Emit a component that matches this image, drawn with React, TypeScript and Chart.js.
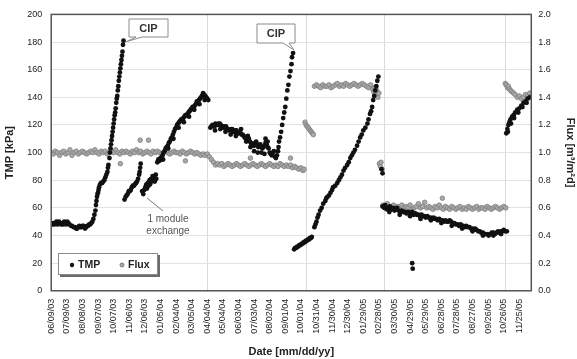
import React, { useEffect, useRef } from 'react';
import { Chart, registerables } from 'chart.js';

Chart.register(...registerables);

const FONT = "'Liberation Sans', Arial, sans-serif";

// x axis: days since 06/09/03
const X_MIN = 0;
const X_MAX = 923;
const xTickDays = [0, 30, 60, 90, 120, 150, 180, 210, 240, 270, 300, 330, 360, 390, 420, 450, 480, 510, 540, 570, 600, 630, 660, 690, 720, 750, 780, 810, 840, 870, 900];
const xTickLabels = ['06/09/03', '07/09/03', '08/08/03', '09/07/03', '10/07/03', '11/06/03', '12/06/03', '01/05/04', '02/04/04', '03/05/04', '04/04/04', '05/04/04', '06/03/04', '07/03/04', '08/02/04', '09/01/04', '10/01/04', '10/31/04', '11/30/04', '12/30/04', '01/29/05', '02/28/05', '03/30/05', '04/29/05', '05/29/05', '06/28/05', '07/28/05', '08/27/05', '09/26/05', '10/26/05', '11/25/05'];
const gridDays = [300, 490, 640, 873];

// TMP [kPa] : [day, value]
const tmpData: [number, number][] = [
  [0,49],[2,48],[4,49],[6,48],[8,49],[10,50],[12,48],[15,50],[17,49],[19,48],[21,49],[23,48],[25,50],[27,49],[29,48],[31,50],[33,49],[35,48],[38,47],[40,47],[43,46],[46,46],[48,45],[50,45],[52,46],[54,47],[56,46],[58,46],[60,47],[62,47],[64,46],[65,45],[67,46],[69,47],[71,47],[73,48],[75,48],[77,49],
  [79,50],[81,52],[83,55],[85,58],[86,62],[87,65],[88,68],[89,70],[90,71],[91,73],[92,75],[94,77],[96,78],[98,78],[100,79],[102,80],[104,82],[106,84],[108,86],[109,89],[110,91],[112,96],[113,100],[114,103],[115,106],[116,109],[117,112],[118,115],[119,118],[120,121],[121,124],[122,127],[123,129],[124,132],[125,136],[126,139],[127,141],[128,145],[129,148],[130,152],[131,155],[132,158],[133,161],[134,164],[135,167],[136,170],[137,173],[138,178],[139,181],
  [141,66],[143,68],[145,69],[147,70],[149,72],[151,72],[153,73],[155,75],[157,76],[159,76],[161,77],[163,78],[165,79],[167,81],[169,84],[170,86],[171,89],[172,92],
  [175,72],[177,70],[179,73],[181,75],[183,77],[184,74],[186,78],[187,76],[189,80],[190,77],[192,81],[193,79],[195,83],[196,80],[198,82],[199,79],[201,84],[202,81],
  [204,93],[206,95],[208,94],[210,96],[212,95],[214,98],[216,100],[218,101],[220,103],[222,104],[224,105],[226,107],[228,108],[230,110],[232,111],[234,113],[236,115],[238,117],[240,118],[242,120],[244,121],[246,122],[248,123],[250,124],[252,124],[254,125],[256,126],[258,127],[260,127],[262,128],[264,129],[266,130],[268,131],[270,132],[272,133],[274,133],[276,134],[278,135],[280,137],[282,137],[284,138],[286,139],[288,140],[290,141],[292,143],[294,142],[296,141],[298,140],[300,139],[302,138],
  [215,95],[225,103],[235,110],[245,118],[255,122],[265,126],[275,131],[285,135],[295,138],
  [306,118],[308,119],[310,120],[312,119],[314,119],[316,121],[318,120],[320,120],[322,121],[324,121],[326,120],[328,119],[330,118],[332,119],[334,118],[336,119],[338,117],[340,117],[342,116],[344,116],[346,117],[348,117],[350,115],[352,115],[354,116],[356,116],[358,114],[360,114],[362,115],[364,114],[366,113],[368,113],[370,112],[372,111],[374,110],[376,111],[378,112],[380,110],[382,108],[384,107],[386,106],[388,105],[390,105],[392,107],[394,108],[396,106],[398,104],[400,105],[402,106],[404,104],[406,103],[408,104],[410,105],[412,107],[414,106],[416,104],[418,103],[420,100],[422,99],[424,98],[426,100],[428,101],[430,97],[432,96],
  [315,116],[325,117],[335,115],[345,113],[355,112],[365,117],[375,108],[383,104],[390,101],[397,100],[404,100],[410,99],[412,110],[416,108],
  [434,98],[436,101],[437,104],[438,108],[440,111],[442,115],[444,120],[446,125],[448,129],[450,133],[452,139],[454,145],[456,149],[458,155],[460,159],[462,164],[463,169],[465,172],
  [467,30],[469,31],[471,31],[473,32],[475,32],[477,33],[479,33],[481,34],[483,34],[485,35],[487,35],[489,36],[491,36],[493,37],[495,37],[497,38],[499,38],[501,39],
  [506,46],[508,48],[510,50],[512,53],[514,55],[517,58],[520,60],[523,63],[527,65],[529,67],[531,68],[534,69],[537,71],[540,73],[542,75],[546,76],[550,78],[553,80],[556,82],[559,84],[562,87],[565,89],[569,91],[572,93],[575,96],[578,98],[581,100],[584,102],[588,105],[591,108],[594,111],[597,113],[600,116],[604,118],[608,121],[610,124],[613,128],[615,130],[617,133],[619,138],[621,141],[623,145],[625,148],[627,152],[629,155],
  [635,88],[637,85],[694,20],[695,16],
  [637,61],[640,60],[642,62],[645,59],[648,60],[651,61],[654,59],[657,60],[660,58],[663,59],[665,60],[668,58],[671,57],[674,58],[677,57],[680,57],[683,56],[686,57],[688,56],[691,56],[694,57],[697,55],[700,56],[703,55],[706,55],[709,54],[712,55],[715,54],[717,54],[720,53],[723,54],[726,53],[729,53],[732,52],[735,53],[738,52],[740,52],[743,51],[746,52],[749,51],[752,51],[755,50],[758,51],[761,50],[763,50],[766,51],[769,50],[772,49],[775,49],[778,48],[781,48],[784,47],[787,48],[790,47],[792,47],[795,46],[798,47],[801,46],[804,46],[807,45],[810,45],[813,44],[815,45],[818,44],[821,43],[824,43],[827,42],[830,42],[833,41],[835,41],[838,41],[841,40],[844,41],[847,42],[850,42],[853,41],[856,42],[859,43],[862,42],[865,43],[867,43],[870,44],[873,43],[876,43],
  [650,57],[670,55],[690,54],[710,52],[730,51],[750,49],[770,47],[790,45],[810,43],[830,40],[850,40],[865,41],
  [875,114],[877,117],[879,120],[881,122],[883,124],[886,126],[889,127],[892,129],[896,131],[900,132],[904,134],[908,136],[912,137],[916,139],[920,140],
  [878,115],[884,121],[890,125],[898,129],[906,133],[914,136],
];

// Flux [m3/m2d] : [day, value]
const fluxData: [number, number][] = [
  [0,1.00],[4,0.99],[8,1.01],[12,1.00],[16,0.98],[20,1.00],[24,1.01],[28,0.99],[32,1.00],[36,1.02],[40,0.98],[44,1.00],[48,1.01],[52,0.99],[56,1.00],[60,1.01],[64,1.00],[68,0.99],[72,1.00],[76,1.01],[80,1.00],[84,1.02],[88,1.00],[92,0.99],[96,1.01],[100,1.00],[104,1.01],[108,0.99],[112,1.00],[116,1.01],[120,1.00],[124,1.02],[128,1.00],[132,0.99],[136,1.01],[140,1.00],[144,1.01],[148,1.00],[152,0.99],[156,1.01],[160,1.00],[164,1.02],[168,1.00],[172,1.01],[176,0.99],[180,1.00],[184,1.01],[188,1.00],[192,0.99],[196,1.01],[200,1.00],[204,1.01],[208,1.00],[212,0.99],[216,1.00],[220,1.01],[224,1.00],[228,0.99],[232,1.00],[236,1.01],[240,1.00],[244,1.00],[248,0.99],[252,1.01],[256,1.00],[260,0.99],[264,1.00],[268,1.01],[272,1.00],[276,0.99],[280,1.00],[284,0.99],[288,0.98],[292,0.99],[296,0.98],[300,0.99],[304,0.97],[308,0.95],
  [133,0.92],[171,1.09],[187,1.09],[258,0.94],
  [312,0.93],[316,0.91],[320,0.92],[324,0.91],[328,0.92],[332,0.90],[336,0.91],[340,0.92],[344,0.91],[348,0.90],[352,0.91],[356,0.92],[360,0.91],[364,0.90],[368,0.91],[372,0.92],[376,0.91],[380,0.90],[384,0.91],[388,0.92],[392,0.91],[396,0.90],[400,0.91],[404,0.92],[408,0.91],[412,0.90],[416,0.91],[420,0.92],[424,0.91],[428,0.90],[432,0.91],[436,0.90],[440,0.92],[444,0.91],[448,0.90],[452,0.91],[456,0.90],[460,0.91],[464,0.89],[468,0.90],[472,0.89],[476,0.88],[480,0.89],[484,0.87],[486,0.88],
  [383,0.96],[460,0.96],
  [488,1.22],[490,1.20],[492,1.19],[494,1.18],[496,1.17],[498,1.16],[500,1.15],[502,1.14],[504,1.13],
  [506,1.48],[510,1.49],[514,1.48],[518,1.47],[522,1.49],[526,1.48],[530,1.48],[534,1.49],[538,1.47],[542,1.48],[546,1.49],[550,1.50],[554,1.48],[558,1.49],[562,1.48],[566,1.50],[570,1.49],[574,1.48],[578,1.49],[582,1.50],[586,1.49],[590,1.48],[594,1.49],[598,1.50],[602,1.49],[606,1.48],[610,1.47],[614,1.49],[618,1.46],[620,1.44],[622,1.47],[624,1.42],[626,1.45],[628,1.40],[630,1.43],
  [631,0.92],[633,0.90],[634,0.93],[636,0.88],
  [638,0.62],[642,0.60],[646,0.63],[650,0.61],[654,0.59],[658,0.62],[662,0.60],[666,0.61],[670,0.59],[674,0.62],[678,0.60],[682,0.61],[686,0.60],[690,0.62],[694,0.59],[698,0.60],[702,0.61],[706,0.63],[710,0.60],[714,0.61],[718,0.64],[722,0.60],[726,0.61],[730,0.60],[734,0.59],[738,0.61],[742,0.60],[746,0.62],[750,0.60],[754,0.59],[758,0.61],[762,0.60],[766,0.59],[770,0.61],[774,0.60],[778,0.59],[782,0.60],[786,0.61],[790,0.59],[794,0.60],[798,0.59],[802,0.61],[806,0.60],[810,0.59],[814,0.60],[818,0.61],[822,0.59],[826,0.60],[830,0.60],[834,0.59],[838,0.61],[842,0.60],[846,0.59],[850,0.60],[854,0.61],[858,0.60],[862,0.59],[866,0.60],[870,0.61],[874,0.60],
  [752,0.67],
  [873,1.50],[875,1.49],[877,1.47],[879,1.48],[881,1.46],[883,1.45],[886,1.44],[889,1.43],[892,1.42],[896,1.40],[900,1.41],[904,1.39],[908,1.40],[912,1.42],[916,1.41],[920,1.43],
];

const TMP_COLOR = '#111111';
const FLUX_FILL = '#a9a9a9';
const FLUX_EDGE = '#7d7d7d';

function drawCallout(ctx: CanvasRenderingContext2D, l: number, t: number, r: number, b: number, b1: number, b2: number, tipX: number, tipY: number, text: string) {
  ctx.beginPath();
  ctx.moveTo(l, t);
  ctx.lineTo(r, t);
  ctx.lineTo(r, b);
  ctx.lineTo(b2, b);
  ctx.lineTo(tipX, tipY);
  ctx.lineTo(b1, b);
  ctx.lineTo(l, b);
  ctx.closePath();
  ctx.fillStyle = '#ffffff';
  ctx.fill();
  ctx.strokeStyle = '#8a8a8a';
  ctx.lineWidth = 1;
  ctx.stroke();
  ctx.fillStyle = '#333';
  ctx.font = `bold 11px ${FONT}`;
  ctx.textAlign = 'center';
  ctx.textBaseline = 'middle';
  ctx.fillText(text, (l + r) / 2, (t + b) / 2 + 0.5);
}

const overlayPlugin = {
  id: 'overlay',
  afterDatasetsDraw(chart: any) {
    const { ctx, chartArea: a, scales } = chart;
    const xs = scales.x;
    const ys = scales.y;
    ctx.save();
    // plot frame
    ctx.strokeStyle = '#555';
    ctx.lineWidth = 1.5;
    ctx.strokeRect(a.left, a.top, a.right - a.left, a.bottom - a.top);

    // CIP callouts
    const p1x = xs.getPixelForValue(139);
    const p1y = ys.getPixelForValue(181);
    drawCallout(ctx, 129, 19, 168, 37, 136, 142, p1x + 3, p1y + 1, 'CIP');
    const p2x = xs.getPixelForValue(465);
    const p2y = ys.getPixelForValue(172);
    drawCallout(ctx, 257, 24, 295, 43, 283, 289, p2x + 1, p2y - 3, 'CIP');

    // 1 module exchange
    ctx.strokeStyle = '#777';
    ctx.lineWidth = 1;
    ctx.beginPath();
    ctx.moveTo(163, 211);
    ctx.lineTo(147, 198);
    ctx.stroke();
    ctx.fillStyle = '#555';
    ctx.font = `10px ${FONT}`;
    ctx.textAlign = 'center';
    ctx.textBaseline = 'middle';
    ctx.fillText('1 module', 168, 219);
    ctx.fillText('exchange', 168, 231);

    // legend box
    ctx.fillStyle = '#6a6a6a';
    ctx.fillRect(60, 255, 100, 22);
    ctx.fillStyle = '#ffffff';
    ctx.fillRect(58, 253, 100, 22);
    ctx.strokeStyle = '#8a8a8a';
    ctx.lineWidth = 1;
    ctx.strokeRect(58.5, 253.5, 99, 21);
    ctx.fillStyle = TMP_COLOR;
    ctx.beginPath();
    ctx.arc(72, 265, 2.2, 0, Math.PI * 2);
    ctx.fill();
    ctx.fillStyle = FLUX_FILL;
    ctx.strokeStyle = FLUX_EDGE;
    ctx.beginPath();
    ctx.arc(122, 265, 2.0, 0, Math.PI * 2);
    ctx.fill();
    ctx.stroke();
    ctx.fillStyle = '#222';
    ctx.font = `bold 10.5px ${FONT}`;
    ctx.textAlign = 'left';
    ctx.fillText('TMP', 78, 265.5);
    ctx.fillText('Flux', 128, 265.5);
    ctx.restore();
  },
};

export default function App() {
  const canvasRef = useRef<HTMLCanvasElement | null>(null);

  useEffect(() => {
    if (!canvasRef.current) return;
    const tickFont = { family: FONT, size: 9 };
    const titleFont = { family: FONT, size: 11, weight: 'bold' as const };
    const chart = new Chart(canvasRef.current, {
      type: 'scatter',
      data: {
        datasets: [
          {
            label: 'TMP',
            data: tmpData.map(([d, v]) => ({ x: d, y: v })),
            xAxisID: 'x',
            yAxisID: 'y',
            pointStyle: 'circle',
            pointRadius: 2.4,
            pointBorderWidth: 0,
            backgroundColor: TMP_COLOR,
            borderColor: TMP_COLOR,
          },
          {
            label: 'Flux',
            data: fluxData.map(([d, v]) => ({ x: d, y: v })),
            xAxisID: 'x',
            yAxisID: 'y2',
            pointStyle: 'circle',
            pointRadius: 2.3,
            pointBorderWidth: 0.8,
            backgroundColor: FLUX_FILL,
            borderColor: FLUX_EDGE,
          },
        ],
      },
      options: {
        animation: false,
        responsive: true,
        maintainAspectRatio: false,
        layout: { padding: { top: 14, left: 0, right: 0, bottom: 0 } },
        plugins: {
          legend: { display: false },
          tooltip: { enabled: false },
        },
        scales: {
          x: {
            type: 'linear',
            position: 'bottom',
            min: X_MIN,
            max: X_MAX,
            afterBuildTicks: (axis: any) => {
              axis.ticks = xTickDays.map((v) => ({ value: v }));
            },
            ticks: {
              autoSkip: false,
              minRotation: 90,
              maxRotation: 90,
              padding: 8,
              font: tickFont,
              color: '#222',
              callback: (_v: any, i: number) => xTickLabels[i] ?? '',
            },
            grid: { display: false, drawTicks: false, tickLength: 0 },
            border: { display: false },
            title: {
              display: true,
              text: 'Date [mm/dd/yy]',
              font: titleFont,
              color: '#222',
              padding: { top: 4, bottom: 0 },
            },
          },
          xg: {
            type: 'linear',
            position: 'bottom',
            min: X_MIN,
            max: X_MAX,
            afterBuildTicks: (axis: any) => {
              axis.ticks = gridDays.map((v) => ({ value: v }));
            },
            ticks: { display: false },
            grid: { color: '#dadada', drawTicks: false, tickLength: 0, lineWidth: 1 },
            border: { display: false },
          },
          y: {
            type: 'linear',
            position: 'left',
            min: 0,
            max: 200,
            ticks: { stepSize: 20, padding: 9, font: tickFont, color: '#222' },
            grid: { color: '#e2e2e2', drawTicks: false, tickLength: 0 },
            border: { display: false },
            title: {
              display: true,
              text: 'TMP [kPa]',
              font: titleFont,
              color: '#222',
              padding: { top: 3, bottom: 2 },
            },
          },
          y2: {
            type: 'linear',
            position: 'right',
            min: 0,
            max: 2,
            ticks: {
              stepSize: 0.2,
              padding: 7,
              font: tickFont,
              color: '#222',
              callback: (v: any) => Number(v).toFixed(1),
            },
            grid: { display: false, drawTicks: false, tickLength: 0 },
            border: { display: false },
            title: {
              display: true,
              text: 'Flux [m³/m²d]',
              font: titleFont,
              color: '#222',
              padding: { top: 0, bottom: 6 },
            },
          },
        },
      },
      plugins: [overlayPlugin],
    });
    return () => chart.destroy();
  }, []);

  return (
    <div style={{ position: 'fixed', left: 0, top: 0, width: 577, height: 359, background: '#fff' }}>
      <canvas ref={canvasRef} />
    </div>
  );
}
